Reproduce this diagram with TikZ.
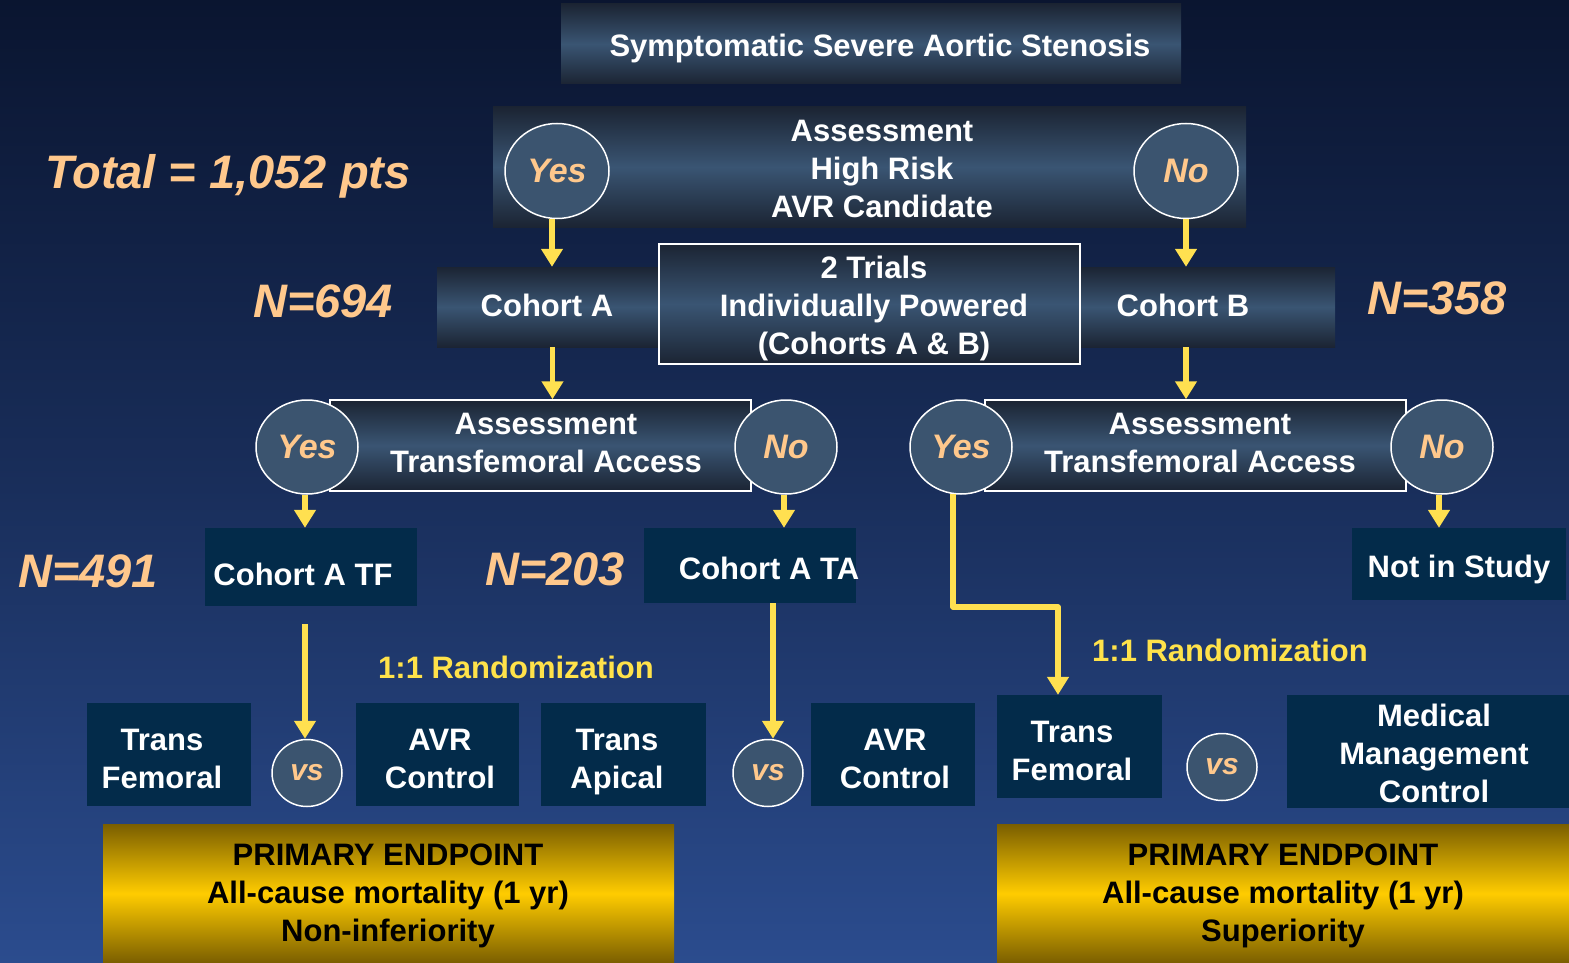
\documentclass[tikz,border=0pt]{standalone}
\usepackage{fontspec}
\setmainfont{Liberation Sans}
\usetikzlibrary{shapes.geometric,arrows.meta}
\definecolor{bgtop}{HTML}{0A1530}
\definecolor{bgbot}{HTML}{2B4C8E}
\definecolor{boxdark}{HTML}{1B2433}
\definecolor{boxmid}{HTML}{3A5573}
\definecolor{circfill}{HTML}{3B546F}
\definecolor{navybox}{HTML}{032B4A}
\definecolor{arrowyel}{HTML}{FFE050}
\definecolor{orangetxt}{HTML}{FFC88C}
\definecolor{randyel}{HTML}{FFE24A}
\definecolor{epdark}{HTML}{7A5E00}
\definecolor{epmid}{HTML}{FFCC00}
\begin{document}
\begin{tikzpicture}[x=1pt,y=-1pt,
  font=\bfseries\fontsize{31}{38}\selectfont,
  gbox/.style={rectangle, inner sep=0pt, top color=boxdark, bottom color=boxdark, middle color=boxmid},
  wbox/.style={gbox, draw=white, line width=1.5pt},
  dbox/.style={rectangle, inner sep=0pt, fill=navybox},
  tx/.style={anchor=base, inner sep=0pt, align=center, text=white},
  yn/.style={ellipse, draw=white, line width=1.5pt, fill=circfill, text=orangetxt, inner sep=0pt,
     font=\bfseries\itshape\fontsize{34}{40}\selectfont, minimum width=104pt, minimum height=95pt},
  vsc/.style={yn, minimum width=70pt, minimum height=67pt, font=\bfseries\itshape\fontsize{30}{34}\selectfont},
  arr/.style={draw=arrowyel, line width=5.5pt, line join=round, -{Triangle[width=21pt,length=18pt]}},
  ep/.style={rectangle, inner sep=0pt, top color=epdark, bottom color=epdark, middle color=epmid},
  ntext/.style={anchor=base, text=orangetxt, font=\bfseries\itshape\fontsize{47}{50}\selectfont, inner sep=0pt},
  rtext/.style={anchor=base, text=randyel, inner sep=0pt}
]
\useasboundingbox (0,0) rectangle (1569,963);
\shade[top color=bgtop, bottom color=bgbot, middle color=bgtop!55!bgbot] (0,0) rectangle (1569,963);

% top (text nodes: anchor=base is the baseline of the LAST line)
\node[gbox, minimum width=620pt, minimum height=80pt] (title) at (871,44) {};
\node[tx] (titleT) at (880,57) {Symptomatic Severe Aortic Stenosis};
\node[gbox, minimum width=753pt, minimum height=120pt] (assess) at (869.5,167) {};
\node[tx] (assessT) at (882,217) {Assessment\\High Risk\\AVR Candidate};
\node[yn] (yes1) at (557,171) {Yes};
\node[yn] (no1) at (1186,171) {No};

% cohorts
\node[gbox, minimum width=221pt, minimum height=80pt] (cohA) at (547.5,307) {};
\node[tx] (cohAT) at (547,316) {Cohort A};
\node[gbox, minimum width=304pt, minimum height=80pt] (cohB) at (1183,307) {};
\node[tx] (cohBT) at (1183,316) {Cohort B};
\node[wbox, minimum width=421pt, minimum height=120pt] (trials) at (869.5,304) {};
\node[tx] (trialsT) at (874,354) {2 Trials\\Individually Powered\\(Cohorts A \& B)};

% assessments transfemoral
\node[wbox, minimum width=421pt, minimum height=91pt] (asL) at (540.5,445.5) {};
\node[tx] (asLT) at (546,472) {Assessment\\Transfemoral Access};
\node[wbox, minimum width=421pt, minimum height=91pt] (asR) at (1195.5,445.5) {};
\node[tx] (asRT) at (1200,472) {Assessment\\Transfemoral Access};
\node[yn, minimum width=102pt, minimum height=94pt] (yes2) at (307,447) {Yes};
\node[yn, minimum width=102pt, minimum height=94pt] (no2) at (786,447) {No};
\node[yn, minimum width=102pt, minimum height=94pt] (yes3) at (961,447) {Yes};
\node[yn, minimum width=102pt, minimum height=94pt] (no3) at (1442,447) {No};

% sub cohorts
\node[dbox, minimum width=212pt, minimum height=78pt] (tfA) at (311,567) {};
\node[tx] (tfAT) at (303,585) {Cohort A TF};
\node[dbox, minimum width=212pt, minimum height=75pt] (taA) at (750,565.5) {};
\node[tx] (taAT) at (769,579) {Cohort A TA};
\node[dbox, minimum width=214pt, minimum height=72pt] (nis) at (1459,564) {};
\node[tx] (nisT) at (1459,577) {Not in Study};

% bottom row
\node[dbox, minimum width=164pt, minimum height=103pt] (tf1) at (169,754.5) {};
\node[tx] (tf1T) at (162,788) {Trans\\Femoral};
\node[vsc] (vs1) at (307,773) {vs};
\node[dbox, minimum width=163pt, minimum height=103pt] (avr1) at (437.5,754.5) {};
\node[tx] (avr1T) at (440,788) {AVR\\Control};
\node[dbox, minimum width=165pt, minimum height=103pt] (ta1) at (623.5,754.5) {};
\node[tx] (ta1T) at (617,788) {Trans\\Apical};
\node[vsc] (vs2) at (768,773) {vs};
\node[dbox, minimum width=164pt, minimum height=103pt] (avr2) at (893,754.5) {};
\node[tx] (avr2T) at (895,788) {AVR\\Control};
\node[dbox, minimum width=165pt, minimum height=103pt] (tf2) at (1079.5,746.5) {};
\node[tx] (tf2T) at (1072,780) {Trans\\Femoral};
\node[vsc] (vs3) at (1222,767) {vs};
\node[dbox, minimum width=282pt, minimum height=113pt] (mmc) at (1428,751.5) {};
\node[tx] (mmcT) at (1434,802) {Medical\\Management\\Control};

% endpoints
\node[ep, minimum width=571pt, minimum height=139pt] (ep1) at (388.5,893.5) {};
\node[tx, text=black] (ep1T) at (388,941) {PRIMARY ENDPOINT\\All-cause mortality (1 yr)\\Non-inferiority};
\node[ep, minimum width=572pt, minimum height=139pt] (ep2) at (1283,893.5) {};
\node[tx, text=black] (ep2T) at (1283,941) {PRIMARY ENDPOINT\\All-cause mortality (1 yr)\\Superiority};

% labels
\node[ntext] (total) at (228,189) {Total = 1,052 pts};
\node[ntext] (n694) at (323,317) {N=694};
\node[ntext] (n358) at (1437,314) {N=358};
\node[ntext] (n491) at (88,587) {N=491};
\node[ntext] (n203) at (555,585) {N=203};
\node[rtext] (rand1) at (516,678) {1:1 Randomization};
\node[rtext] (rand2) at (1230,661) {1:1 Randomization};

% connectors
\draw[arr] ([xshift=-5pt]yes1.south) -- ([xshift=-5pt]yes1.south |- cohA.north);
\draw[arr] (no1.south) -- (no1.south |- cohB.north);
\draw[arr] ([xshift=5pt]cohA.south) -- ([xshift=5pt]cohA.south |- asL.north);
\draw[arr] ([xshift=3pt]cohB.south) -- ([xshift=3pt]cohB.south |- asR.north);
\draw[arr] ([xshift=-2pt]yes2.south) -- ([xshift=-2pt]yes2.south |- tfA.north);
\draw[arr] ([xshift=-2pt]no2.south) -- ([xshift=-2pt]no2.south |- taA.north);
\draw[arr] ([xshift=-3pt]no3.south) -- ([xshift=-3pt]no3.south |- nis.north);
\coordinate (tfgap) at (305,624);
\draw[arr] (tfgap) -- (tfgap |- vs1.north);
\coordinate (tagap) at (773,603);
\draw[arr] (tagap) -- (tagap |- vs2.north);
\coordinate (bend) at (1058,607);
\coordinate (yesfoot) at (953,494);
\draw[arr] (yesfoot) |- (bend) -- (bend |- tf2.north);
\end{tikzpicture}
\end{document}
